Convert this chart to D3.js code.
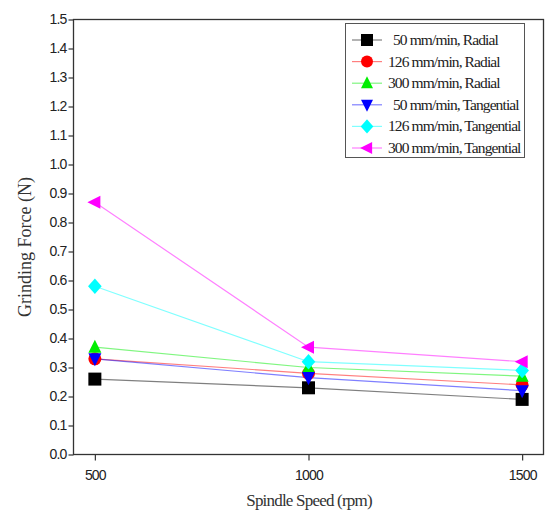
<!DOCTYPE html>
<html>
<head>
<meta charset="utf-8">
<script src="https://cdn.jsdelivr.net/npm/d3@7/dist/d3.min.js"></script>
<style>
  html, body { margin: 0; padding: 0; background: #fff; }
  svg { display: block; }
</style>
</head>
<body>
<svg id="chart" width="547" height="517"></svg>
<script>
// Spindle speeds (rpm)
const speeds = [500, 1000, 1500];

// Grinding force (N) for each feed rate / force component
const seriesNames = [
  "50 mm/min, Radial",
  "126 mm/min, Radial",
  "300 mm/min, Radial",
  "50 mm/min, Tangential",
  "126 mm/min, Tangential",
  "300 mm/min, Tangential"
];
const radial50 = [0.26, 0.23, 0.19];
const radial126 = [0.33, 0.28, 0.24];
const radial300 = [0.37, 0.30, 0.27];
const tangential50 = [0.33, 0.265, 0.22];
const tangential126 = [0.58, 0.32, 0.29];
const tangential300 = [0.87, 0.37, 0.32];

const yTicks = [0, 0.1, 0.2, 0.3, 0.4, 0.5, 0.6, 0.7, 0.8, 0.9, 1.0, 1.1, 1.2, 1.3, 1.4, 1.5];
const xTicks = [500, 1000, 1500];

const seriesValues = [radial50, radial126, radial300, tangential50, tangential126, tangential300];
const colors = ["#000000", "#ff0000", "#00ee00", "#0000ff", "#00ffff", "#ff00ff"];
const symbols = ["square", "circle", "triangleUp", "triangleDown", "diamond", "triangleLeft"];

const svg = d3.select("#chart");
const plotLeft = 73.5, plotTop = 19.5, plotRight = 543.5, plotBottom = 454.5;

const x = d3.scaleLinear().domain([450, 1550]).range([plotLeft, plotRight]);
const y = d3.scaleLinear().domain([0, 1.5]).range([plotBottom, plotTop]);

// marker paths centred on the origin
function markerPath(kind, s) {
  const h = s / 2;
  switch (kind) {
    case "square": return `M${-h},${-h}H${h}V${h}H${-h}Z`;
    case "circle": return d3.symbol(d3.symbolCircle, Math.PI * h * h)();
    case "triangleUp": return `M0,${-h * 1.15}L${h},${h * 0.85}L${-h},${h * 0.85}Z`;
    case "triangleDown": return `M0,${h * 1.15}L${h},${-h * 0.85}L${-h},${-h * 0.85}Z`;
    case "diamond": return `M0,${-h * 1.2}L${h * 1.05},0L0,${h * 1.2}L${-h * 1.05},0Z`;
    case "triangleLeft": return `M${-h * 1.15},0L${h * 0.85},${-h}L${h * 0.85},${h}Z`;
  }
}

// frame
svg.append("rect")
  .attr("x", plotLeft).attr("y", plotTop)
  .attr("width", plotRight - plotLeft).attr("height", plotBottom - plotTop)
  .attr("fill", "none").attr("stroke", "#333").attr("stroke-width", 1.3);

// axes
const yAxis = d3.axisLeft(y).tickValues(yTicks).tickSize(5).tickPadding(2)
  .tickFormat(d3.format(".1f"));
const gy = svg.append("g").attr("transform", `translate(${plotLeft},0)`).call(yAxis);
const xAxis = d3.axisBottom(x).tickValues(xTicks).tickSize(6).tickPadding(10)
  .tickFormat(d3.format("d"));
const gx = svg.append("g").attr("transform", `translate(0,${plotBottom})`).call(xAxis);
[gx, gy].forEach(g => {
  g.select(".domain").remove();
  g.selectAll(".tick line").attr("stroke", "#333").attr("stroke-width", 1.2);
  g.selectAll(".tick text")
    .attr("fill", "#222")
    .style("font-family", "'Liberation Sans', Arial, sans-serif")
    .style("font-size", "14px")
    .style("letter-spacing", "-0.8px");
});

// axis titles
svg.append("text")
  .attr("transform", `translate(31,${(plotTop + plotBottom) / 2 + 10}) rotate(-90)`)
  .attr("text-anchor", "middle")
  .style("font-family", "'Liberation Serif', 'Times New Roman', serif")
  .style("font-size", "18px")
  .attr("fill", "#333")
  .text("Grinding Force (N)");
svg.append("text")
  .attr("x", 309).attr("y", 506)
  .attr("text-anchor", "middle")
  .style("font-family", "'Liberation Serif', 'Times New Roman', serif")
  .style("font-size", "17px")
  .style("letter-spacing", "-0.8px")
  .attr("fill", "#333")
  .text("Spindle Speed (rpm)");

// series lines then markers
const line = d3.line().x((d, i) => x(speeds[i])).y(d => y(d));
seriesValues.forEach((vals, k) => {
  svg.append("path")
    .attr("d", line(vals))
    .attr("fill", "none")
    .attr("stroke", colors[k])
    .attr("stroke-opacity", 0.5)
    .attr("stroke-width", 1.2);
});
seriesValues.forEach((vals, k) => {
  svg.selectAll(null).data(vals).enter().append("path")
    .attr("transform", (d, i) => `translate(${x(speeds[i])},${y(d)})`)
    .attr("d", markerPath(symbols[k], 13))
    .attr("fill", colors[k]);
});

// legend
const lg = svg.append("g");
lg.append("rect")
  .attr("x", 345.5).attr("y", 23.5).attr("width", 179).attr("height", 134)
  .attr("fill", "#fff").attr("stroke", "#555").attr("stroke-width", 1);
seriesNames.forEach((name, k) => {
  const cy = 40 + k * 21.6;
  lg.append("line")
    .attr("x1", 352).attr("x2", 382).attr("y1", cy).attr("y2", cy)
    .attr("stroke", colors[k]).attr("stroke-opacity", 0.5).attr("stroke-width", 1.2);
  lg.append("path")
    .attr("transform", `translate(367,${cy})`)
    .attr("d", markerPath(symbols[k], 12))
    .attr("fill", colors[k]);
  lg.append("text")
    .attr("x", name.startsWith("50 ") ? 393 : 388)
    .attr("y", cy + 5)
    .style("font-family", "'Liberation Serif', 'Times New Roman', serif")
    .style("font-size", "15.5px")
    .style("letter-spacing", "-0.9px")
    .attr("fill", "#222")
    .text(name);
});
</script>
</body>
</html>
